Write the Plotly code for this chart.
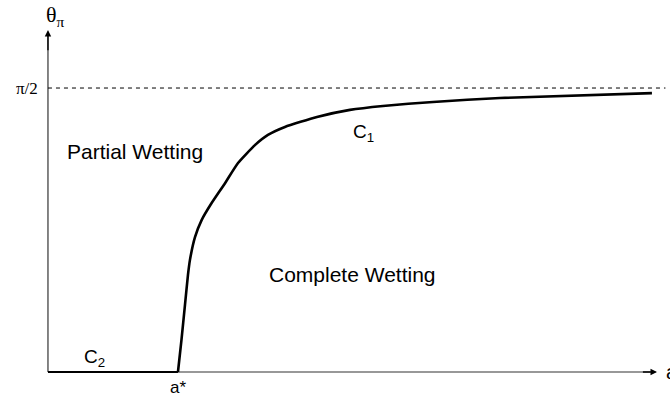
import math
import plotly.graph_objects as go

# ---- data (a in units of a*, theta in radians) ----
HALF_PI = math.pi / 2
a_star = 1.0
c1_a = [1.0, 1.027, 1.054, 1.077, 1.092, 1.131, 1.182, 1.259, 1.362, 1.462, 1.592,
        1.692, 1.823, 2.069, 2.323, 2.577, 2.962, 3.477, 4.646]
c1_frac = [0.0, 0.113, 0.236, 0.342, 0.394, 0.475, 0.535, 0.595, 0.665, 0.736, 0.799,
           0.835, 0.863, 0.898, 0.923, 0.937, 0.951, 0.965, 0.982]
c1_theta = [f * HALF_PI for f in c1_frac]
c2_a = [0.0, a_star]
c2_theta = [0.0, 0.0]

x_min, x_max = -0.369, 4.785
y_min, y_max = -0.0986 * HALF_PI, 1.31 * HALF_PI
x_arrow = 4.685
y_arrow = 1.204 * HALF_PI

fig = go.Figure()

# x-axis line (thin)
fig.add_trace(go.Scatter(x=[0, x_arrow - 0.05], y=[0, 0], mode="lines",
                         line=dict(color="#333", width=1.2), hoverinfo="skip"))
# y-axis line
fig.add_trace(go.Scatter(x=[0, 0], y=[0, y_arrow - 0.02], mode="lines",
                         line=dict(color="#333", width=1.2), hoverinfo="skip"))
# pi/2 dashed line
fig.add_trace(go.Scatter(x=[0, 4.75], y=[HALF_PI, HALF_PI], mode="lines",
                         line=dict(color="black", width=1, dash="4px,4px"), hoverinfo="skip"))
# C2
fig.add_trace(go.Scatter(x=c2_a, y=c2_theta, mode="lines",
                         line=dict(color="black", width=2.2), hoverinfo="skip"))
# C1
fig.add_trace(go.Scatter(x=c1_a, y=c1_theta, mode="lines",
                         line=dict(color="black", width=2.6, shape="spline", smoothing=0.5),
                         hoverinfo="skip"))

# arrowheads
fig.add_annotation(x=x_arrow, y=0, ax=x_arrow - 0.12, ay=0, xref="x", yref="y",
                   axref="x", ayref="y", showarrow=True, arrowhead=2, arrowsize=1,
                   arrowwidth=1.3, arrowcolor="black", text="")
fig.add_annotation(x=0, y=y_arrow, ax=0, ay=y_arrow - 0.12, xref="x", yref="y",
                   axref="x", ayref="y", showarrow=True, arrowhead=2, arrowsize=1,
                   arrowwidth=1.3, arrowcolor="black", text="")

serif = "Liberation Serif"
sans = "Liberation Sans"
texts = [
    (0.06, 1.255 * HALF_PI, "θ<sub>π</sub>", serif, 22, "center"),
    (-0.062, HALF_PI, "π/2", serif, 17, "right"),
    (4.74, 0.0, "a", sans, 20, "left"),
    (a_star, -0.053 * HALF_PI, "a*", sans, 17, "center"),
    (0.36, 0.05 * HALF_PI, "C<sub>2</sub>", sans, 19, "center"),
    (2.43, 0.843 * HALF_PI, "C<sub>1</sub>", sans, 19, "center"),
    (0.672, 0.775 * HALF_PI, "Partial Wetting", sans, 21, "center"),
    (2.34, 0.345 * HALF_PI, "Complete Wetting", sans, 21, "center"),
]
for x, y, t, fam, sz, al in texts:
    fig.add_annotation(x=x, y=y, xref="x", yref="y", text=t, showarrow=False,
                       xanchor=al, yanchor="middle",
                       font=dict(family=fam, size=sz, color="black"))

fig.update_layout(
    width=670, height=400,
    margin=dict(l=0, r=0, t=0, b=0),
    paper_bgcolor="white", plot_bgcolor="white",
    showlegend=False,
    xaxis=dict(range=[x_min, x_max], visible=False, fixedrange=True),
    yaxis=dict(range=[y_min, y_max], visible=False, fixedrange=True),
)

fig.write_html("out.html", config={"displayModeBar": False},
               post_script="document.body.style.margin='0';")
